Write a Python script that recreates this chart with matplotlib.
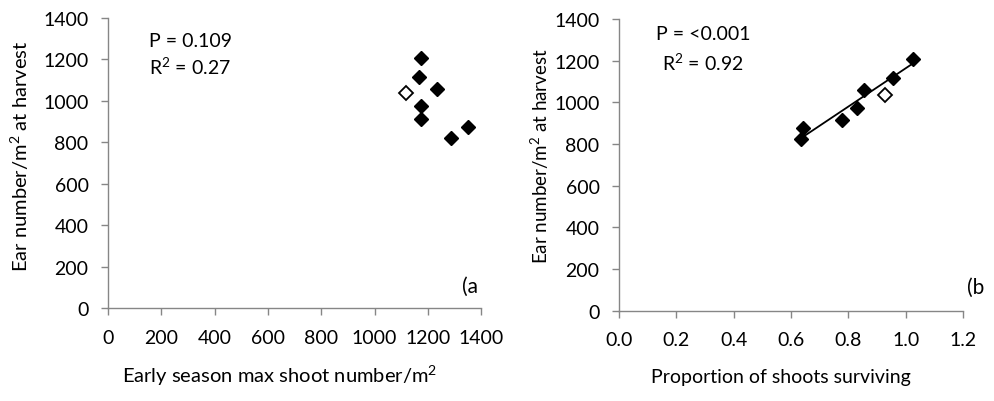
import matplotlib.pyplot as plt
import numpy as np

plt.rcParams['font.family'] = ['Lato', 'DejaVu Sans']
plt.rcParams['mathtext.fontset'] = 'custom'
plt.rcParams['mathtext.rm'] = 'Lato'
plt.rcParams['mathtext.it'] = 'Lato:italic'
plt.rcParams['mathtext.bf'] = 'Lato:bold'
plt.rcParams['mathtext.default'] = 'rm'

# Ear number / m2 at harvest (shared by both panels)
ear_number = [1206, 1115, 975, 914, 875, 822, 1059]
shoot_max = [1176, 1168, 1175, 1175, 1351, 1286, 1236]
prop_surviving = [1.024, 0.955, 0.829, 0.778, 0.643, 0.636, 0.855]

# open (unfilled) point
open_ear = [1037]
open_shoot = [1119]
open_prop = [0.929]

gray = '#868686'

fig = plt.figure(figsize=(9.94, 4.02), dpi=100)
ax1 = fig.add_axes([0.1087, 0.2313, 0.3753, 0.7214])
ax2 = fig.add_axes([0.6227, 0.2251, 0.3461, 0.7251])


def style(ax, label_size):
    ax.spines['top'].set_visible(False)
    ax.spines['right'].set_visible(False)
    for s in ['left', 'bottom']:
        ax.spines[s].set_color(gray)
        ax.spines[s].set_linewidth(1.0)
    ax.tick_params(axis='both', direction='out', length=5, width=1.0,
                   color=gray, labelsize=14, labelcolor='black')
    ax.tick_params(axis='x', pad=10)
    ax.tick_params(axis='y', pad=9)
    ax.set_ylim(0, 1400)
    ax.set_yticks(np.arange(0, 1401, 200))
    ax.set_ylabel('Ear number/m$^2$ at harvest', fontsize=label_size)
    ax.yaxis.label.set_va('center')


# panel (a)
ax1.plot(shoot_max, ear_number, 'D', color='black', markersize=7.5, clip_on=False)
ax1.plot(open_shoot, open_ear, 'D', markerfacecolor='white', markeredgecolor='black',
         markeredgewidth=1.3, markersize=7, clip_on=False)
style(ax1, 14.5)
ax1.set_xlim(0, 1400)
ax1.set_xticks(np.arange(0, 1401, 200))
ax1.set_xlabel('Early season max shoot number/m$^2$', fontsize=14.5)
ax1.xaxis.set_label_coords(0.46, -0.231)
ax1.xaxis.label.set_va('center')
ax1.yaxis.set_label_coords(-0.236, 0.528)
ax1.text(0.22, 0.924, 'P = 0.109', transform=ax1.transAxes, fontsize=14,
         ha='center', va='center')
ax1.text(0.22, 0.834, 'R$^2$ = 0.27', transform=ax1.transAxes, fontsize=14,
         ha='center', va='center')

# panel (b)
fit = np.polyfit(prop_surviving, ear_number, 1)
xs = np.array([min(prop_surviving), max(prop_surviving)])
ax2.plot(xs, np.polyval(fit, xs), color='black', linewidth=1.3)
ax2.plot(prop_surviving, ear_number, 'D', color='black', markersize=7.5, clip_on=False)
ax2.plot(open_prop, open_ear, 'D', markerfacecolor='white', markeredgecolor='black',
         markeredgewidth=1.3, markersize=7, clip_on=False)
style(ax2, 13.5)
ax2.set_xlim(0, 1.2)
ax2.set_xticks(np.arange(0, 1.21, 0.2))
ax2.set_xticklabels([f'{v:.1f}' for v in np.arange(0, 1.21, 0.2)])
ax2.set_xlabel('Proportion of shoots surviving', fontsize=14)
ax2.xaxis.set_label_coords(0.472, -0.225)
ax2.xaxis.label.set_va('center')
ax2.yaxis.set_label_coords(-0.231, 0.532)
ax2.text(0.244, 0.949, 'P = <0.001', transform=ax2.transAxes, fontsize=14,
         ha='center', va='center')
ax2.text(0.244, 0.853, 'R$^2$ = 0.92', transform=ax2.transAxes, fontsize=14,
         ha='center', va='center')

fig.text(462 / 994, 1 - 287 / 402, '(a', fontsize=15, ha='left', va='center')
fig.text(967 / 994, 1 - 288 / 402, '(b', fontsize=15, ha='left', va='center')

plt.savefig('out.png', dpi=100)
